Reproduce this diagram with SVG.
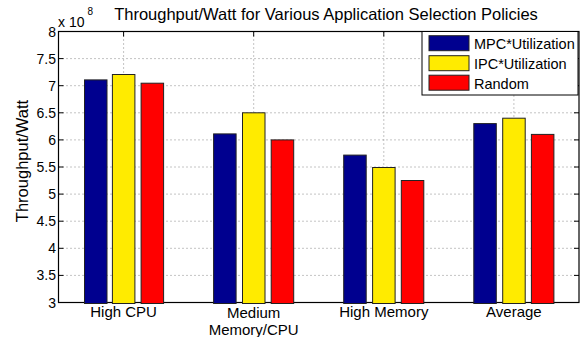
<svg xmlns="http://www.w3.org/2000/svg" width="583" height="337" viewBox="0 0 583 337">
<style>
text{font-family:"Liberation Sans",Arial,sans-serif;fill:#000}
.tk{font-size:14px;text-anchor:end}
.xl{font-size:15px;text-anchor:middle}
.grid line{stroke:#888;stroke-width:1;stroke-dasharray:1,3}
.ticks line{stroke:#000;stroke-width:1}
.b{fill:#00008F;stroke:#222;stroke-width:1}
.y{fill:#FFEB00;stroke:#222;stroke-width:1}
.r{fill:#FF0000;stroke:#222;stroke-width:1}
.lg{font-size:14.5px}
</style>
<rect width="583" height="337" fill="#fff"/>
<text x="326" y="20" font-size="16.5" text-anchor="middle">Throughput/Watt for Various Application Selection Policies</text>
<g id="grid" class="grid">
<line x1="58.5" y1="58.6" x2="579" y2="58.6"/>
<line x1="58.5" y1="85.7" x2="579" y2="85.7"/>
<line x1="58.5" y1="112.8" x2="579" y2="112.8"/>
<line x1="58.5" y1="139.9" x2="579" y2="139.9"/>
<line x1="58.5" y1="167" x2="579" y2="167"/>
<line x1="58.5" y1="194.1" x2="579" y2="194.1"/>
<line x1="58.5" y1="221.2" x2="579" y2="221.2"/>
<line x1="58.5" y1="248.3" x2="579" y2="248.3"/>
<line x1="58.5" y1="275.4" x2="579" y2="275.4"/>
<line x1="123.6" y1="31.5" x2="123.6" y2="302.5"/>
<line x1="253.7" y1="31.5" x2="253.7" y2="302.5"/>
<line x1="383.8" y1="31.5" x2="383.8" y2="302.5"/>
<line x1="513.9" y1="31.5" x2="513.9" y2="302.5"/>
</g>
<g id="axes">
<rect x="58.5" y="31.5" width="520.5" height="271" fill="none" stroke="#000" stroke-width="1.2"/>
<g class="ticks">
<line x1="58.5" y1="58.6" x2="63.5" y2="58.6"/><line x1="574" y1="58.6" x2="579" y2="58.6"/>
<line x1="58.5" y1="85.7" x2="63.5" y2="85.7"/><line x1="574" y1="85.7" x2="579" y2="85.7"/>
<line x1="58.5" y1="112.8" x2="63.5" y2="112.8"/><line x1="574" y1="112.8" x2="579" y2="112.8"/>
<line x1="58.5" y1="139.9" x2="63.5" y2="139.9"/><line x1="574" y1="139.9" x2="579" y2="139.9"/>
<line x1="58.5" y1="167" x2="63.5" y2="167"/><line x1="574" y1="167" x2="579" y2="167"/>
<line x1="58.5" y1="194.1" x2="63.5" y2="194.1"/><line x1="574" y1="194.1" x2="579" y2="194.1"/>
<line x1="58.5" y1="221.2" x2="63.5" y2="221.2"/><line x1="574" y1="221.2" x2="579" y2="221.2"/>
<line x1="58.5" y1="248.3" x2="63.5" y2="248.3"/><line x1="574" y1="248.3" x2="579" y2="248.3"/>
<line x1="58.5" y1="275.4" x2="63.5" y2="275.4"/><line x1="574" y1="275.4" x2="579" y2="275.4"/>
<line x1="123.6" y1="31.5" x2="123.6" y2="36.5"/><line x1="253.7" y1="31.5" x2="253.7" y2="36.5"/>
<line x1="383.8" y1="31.5" x2="383.8" y2="36.5"/><line x1="513.9" y1="31.5" x2="513.9" y2="36.5"/>
</g>
<text class="tk" x="56" y="36.5">8</text>
<text class="tk" x="56" y="63.6">7.5</text>
<text class="tk" x="56" y="90.7">7</text>
<text class="tk" x="56" y="117.8">6.5</text>
<text class="tk" x="56" y="144.9">6</text>
<text class="tk" x="56" y="172">5.5</text>
<text class="tk" x="56" y="199.1">5</text>
<text class="tk" x="56" y="226.2">4.5</text>
<text class="tk" x="56" y="253.3">4</text>
<text class="tk" x="56" y="280.4">3.5</text>
<text class="tk" x="56" y="307.5">3</text>
<text x="58" y="26.5" font-size="14">x 10</text>
<text x="87.5" y="15" font-size="10">8</text>
<text transform="translate(28,161) rotate(-90)" font-size="16.5" text-anchor="middle">Throughput/Watt</text>
</g>
<g id="high-cpu">
<rect class="b" x="84.5" y="79.9" width="22.5" height="223.6"/>
<rect class="y" x="112.4" y="74.5" width="22.5" height="229"/>
<rect class="r" x="141.1" y="83.2" width="22.5" height="220.3"/>
<text class="xl" x="123.6" y="317">High CPU</text>
</g>
<g id="medium">
<rect class="b" x="213.6" y="133.9" width="22.5" height="169.6"/>
<rect class="y" x="242.5" y="112.8" width="22.5" height="190.7"/>
<rect class="r" x="271.2" y="139.9" width="22.5" height="163.6"/>
<text class="xl" x="253.7" y="318">Medium</text>
<text class="xl" x="253.7" y="334.5">Memory/CPU</text>
</g>
<g id="high-memory">
<rect class="b" x="343.7" y="155.1" width="22.5" height="148.4"/>
<rect class="y" x="372.6" y="167.5" width="22.5" height="136"/>
<rect class="r" x="401.3" y="180.5" width="22.5" height="123"/>
<text class="xl" x="383.8" y="317">High Memory</text>
</g>
<g id="average">
<rect class="b" x="473.8" y="123.6" width="22.5" height="179.9"/>
<rect class="y" x="502.7" y="118.2" width="22.5" height="185.3"/>
<rect class="r" x="531.4" y="134.4" width="22.5" height="169.1"/>
<text class="xl" x="513.9" y="317">Average</text>
</g>
<g id="legend">
<rect x="422" y="31.5" width="156" height="63.5" fill="#fff" stroke="#000" stroke-width="1"/>
<rect class="b" x="429" y="35.7" width="40" height="15"/>
<rect class="y" x="429" y="55.7" width="40" height="15"/>
<rect class="r" x="429" y="75.2" width="40" height="15"/>
<text class="lg" x="474" y="49">MPC*Utilization</text>
<text class="lg" x="474" y="69">IPC*Utilization</text>
<text class="lg" x="474" y="88.5">Random</text>
</g>
</svg>
